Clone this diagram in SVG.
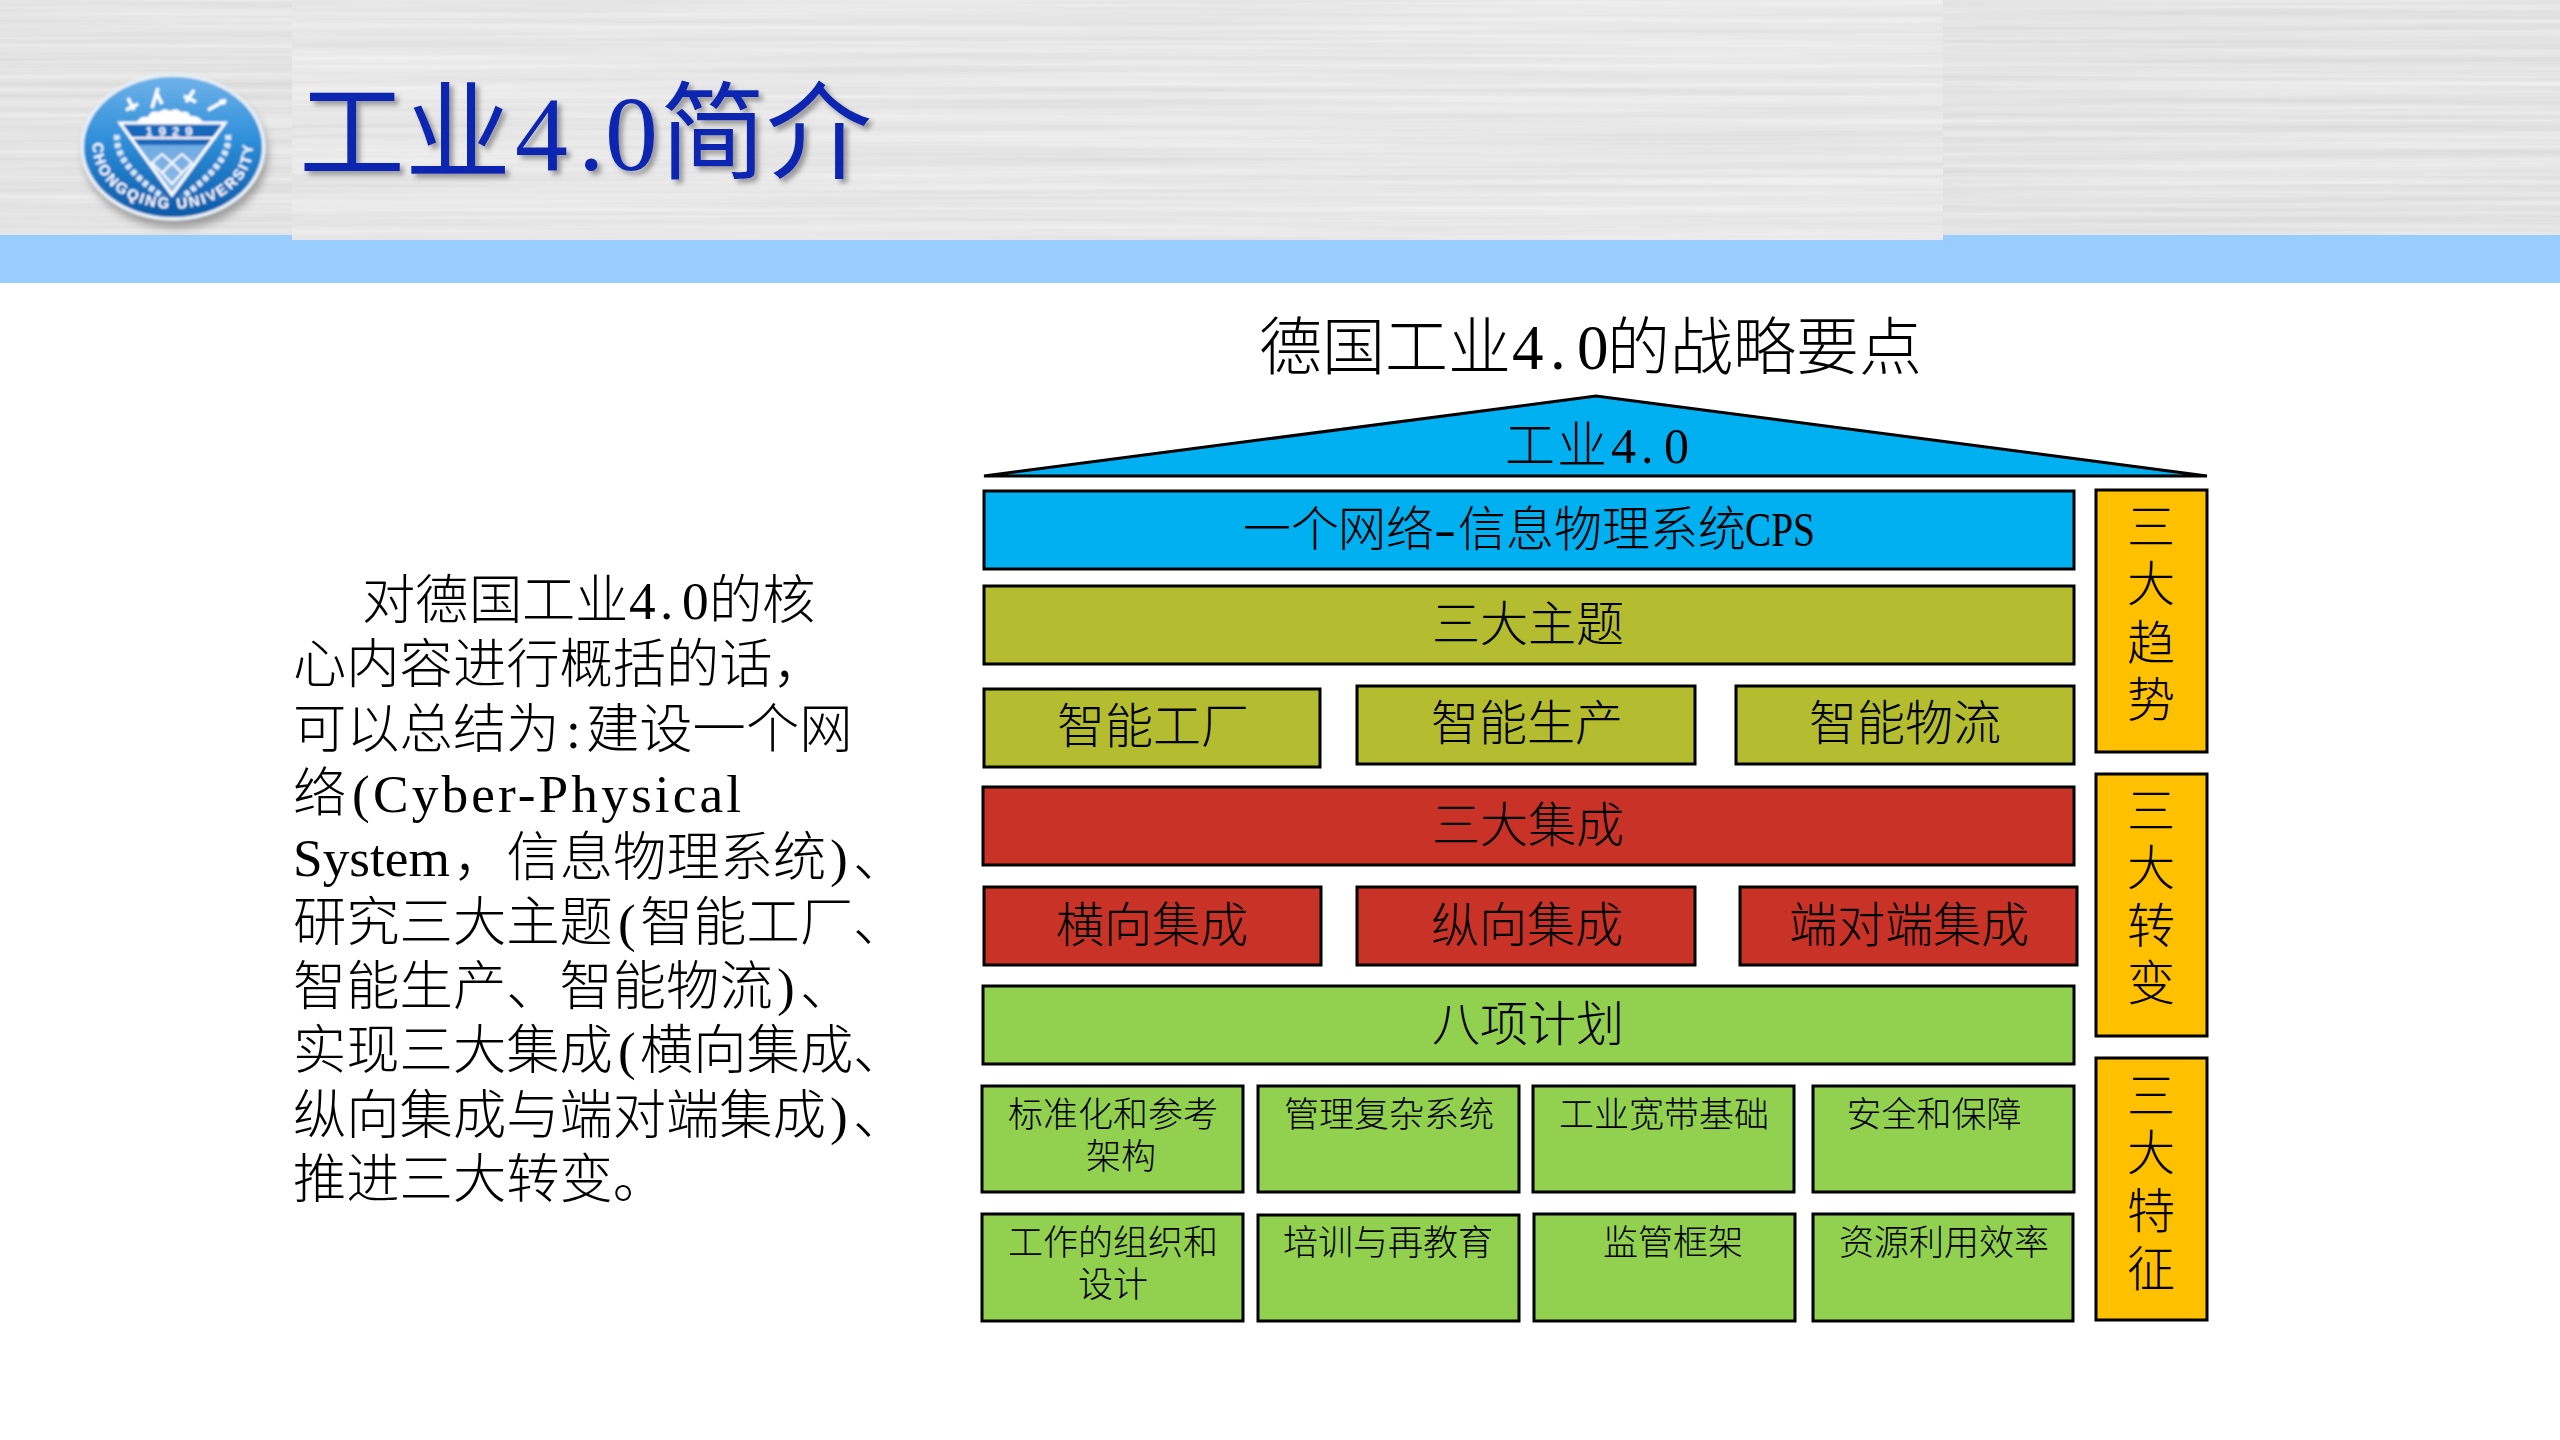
<svg xmlns="http://www.w3.org/2000/svg" width="2560" height="1440" viewBox="0 0 2560 1440">
<style>
text{font-family:"Liberation Serif","Noto Sans CJK SC",serif;fill:#000;font-weight:300}
.c{text-anchor:middle}
.b{stroke:#000;stroke-width:3}
.blue{fill:#00B0F0}.olive{fill:#B3BD2F}.red{fill:#C93227}.green{fill:#92D050}.orange{fill:#FFC000}
.f48{font-size:48px}.f36{font-size:35px}.f53{font-size:53.3px}
text.lg{font-family:"Liberation Sans",sans-serif;font-weight:700;fill:#fff}
</style>
<defs>
<filter id="brushed" x="0" y="0" width="100%" height="100%" color-interpolation-filters="sRGB">
<feTurbulence type="fractalNoise" baseFrequency="0.0015 0.16" numOctaves="3" seed="7"/>
<feColorMatrix type="matrix" values="0.11 0 0 0 0.84  0.11 0 0 0 0.84  0.11 0 0 0 0.84  0 0 0 0 1"/>
</filter>
<filter id="brushed2" x="0" y="0" width="100%" height="100%" color-interpolation-filters="sRGB">
<feTurbulence type="fractalNoise" baseFrequency="0.0015 0.16" numOctaves="3" seed="19"/>
<feColorMatrix type="matrix" values="0.1 0 0 0 0.86  0.1 0 0 0 0.86  0.1 0 0 0 0.86  0 0 0 0 1"/>
</filter>
<filter id="ts" x="-5%" y="-10%" width="112%" height="125%"><feDropShadow dx="4" dy="4" stdDeviation="2.5" flood-color="#777" flood-opacity=".7"/></filter>
<filter id="soft" x="-10%" y="-10%" width="120%" height="120%"><feGaussianBlur stdDeviation="0.9"/></filter>
<filter id="sh" x="-20%" y="-20%" width="140%" height="140%"><feGaussianBlur stdDeviation="4"/></filter>
<linearGradient id="seal" x1="0" y1="0" x2="0" y2="1"><stop offset="0" stop-color="#6FB2E8"/><stop offset=".45" stop-color="#2E8FDA"/><stop offset="1" stop-color="#0A5AA8"/></linearGradient>
<linearGradient id="tri" x1="0" y1="0" x2="0" y2="1"><stop offset="0" stop-color="#1268BC"/><stop offset=".3" stop-color="#1268BC"/><stop offset=".31" stop-color="#6EAAE2"/><stop offset="1" stop-color="#93BDE6"/></linearGradient>
<path id="ring" d="M101 121A80 61 0 1 0 245 121"/>
</defs>

<g id="header">
<rect x="0" y="0" width="2560" height="236" filter="url(#brushed)"/>
<rect x="292" y="0" width="1651" height="240" filter="url(#brushed2)"/>
<path d="M0 235H292V240H1943V235H2560V283H0Z" fill="#99CCFF"/>
</g>

<g id="logo">
<ellipse cx="176" cy="155" rx="92" ry="73" fill="#555" opacity=".5" filter="url(#sh)"/>
<g filter="url(#soft)">
<ellipse cx="173" cy="147" rx="93" ry="74" fill="#E6EEF5"/>
<ellipse cx="173" cy="147" rx="89" ry="70" fill="url(#seal)"/>
<path d="M128 98l6 12M126 110l12-6M158 88l-6 20M156 92l6 12M194 90l-8 12M184 96l12 6M226 100l-18 10M220 100l5 4" stroke="#fff" stroke-width="3.5" fill="none"/>
<path d="M137 122q3-6 11-5q3-8 11-5q5-5 11-1q7-4 11 1q8-2 9 4q9-1 13 6Z" fill="#fff"/>
<path d="M120 123H225L172 195Z" fill="url(#tri)" stroke="#fff" stroke-width="3"/>
<path d="M129 138H216" stroke="#fff" stroke-width="2"/>
<path d="M152 163l10-9l10 9l10-9l10 9l-10 10l-10-10l-10 10ZM162 173l10 11l10-11" fill="none" stroke="#fff" stroke-width="2"/>
<text class="lg c" x="172" y="136" font-size="13" letter-spacing="6">1929</text>
<path d="M117 135q-3 28 46 62M228 135q3 28-46 62" fill="none" stroke="#D9EAF8" stroke-width="6" stroke-dasharray="5 3"/>
<text class="lg c" font-size="15" letter-spacing="2.2"><textPath href="#ring" startOffset="50%">CHONGQING UNIVERSITY</textPath></text>
</g>
</g>

<text id="title" x="299 405 515 578 605 660 766" y="170" font-size="106" style="fill:#0A27B2;font-weight:400" filter="url(#ts)">工业4.0简介</text>

<g id="body-text" class="f53">
<text x="362 415 469 522 575 629 660 682 709 762" y="619">对德国工业4.0的核</text>
<text x="293" y="683">心内容进行概括的话，</text>
<text x="293" y="748">可以总结为<tspan x="566">:</tspan><tspan x="586">建设一个网</tspan></text>
<text x="293" y="812">络<tspan x="352">(</tspan><tspan x="373" textLength="368" lengthAdjust="spacing">Cyber-Physical</tspan></text>
<text x="293" y="876">System<tspan x="453">，</tspan><tspan x="506.5">信息物理系统</tspan><tspan x="830">)</tspan><tspan x="853">、</tspan></text>
<text x="293" y="941">研究三大主题<tspan x="618">(</tspan><tspan x="640">智能工厂</tspan><tspan x="853">、</tspan></text>
<text x="293" y="1005">智能生产、<tspan x="559.5">智能物流</tspan><tspan x="777">)</tspan><tspan x="800">、</tspan></text>
<text x="293" y="1069">实现三大集成<tspan x="618">(</tspan><tspan x="640">横向集成</tspan><tspan x="853">、</tspan></text>
<text x="293" y="1134">纵向集成与端对端集成<tspan x="830">)</tspan><tspan x="853">、</tspan></text>
<text x="293" y="1198">推进三大转变。</text>
</g>

<text id="heading" x="1259 1322 1385 1448 1512 1550 1577 1607 1670 1733 1796 1859" y="369" font-size="63">德国工业4.0的战略要点</text>

<g id="n-roof"><path class="blue b" d="M984 476L1596 396L2207 476Z"/><text x="1505 1557 1611 1641 1664" y="463" font-size="50">工业4.0</text></g>
<g id="n-cps"><rect class="blue b" x="984" y="491" width="1090" height="78"/><text class="f48" x="1243 1291 1338 1386" y="546">一个网络<tspan x="1434" textLength="22" lengthAdjust="spacingAndGlyphs">-</tspan><tspan x="1458">信息物理系统</tspan><tspan x="1745" textLength="70" lengthAdjust="spacingAndGlyphs">CPS</tspan></text></g>
<g id="n-themes" class="f48"><rect class="olive b" x="984" y="586" width="1090" height="78"/><text class="c" x="1528" y="641">三大主题</text></g>
<g id="n-factory" class="f48"><rect class="olive b" x="984" y="689" width="336" height="78"/><text class="c" x="1153" y="743">智能工厂</text></g>
<g id="n-production" class="f48"><rect class="olive b" x="1357" y="686" width="338" height="78"/><text class="c" x="1527" y="740">智能生产</text></g>
<g id="n-logistics" class="f48"><rect class="olive b" x="1736" y="686" width="338" height="78"/><text class="c" x="1905" y="740">智能物流</text></g>
<g id="n-integration" class="f48"><rect class="red b" x="983" y="787" width="1091" height="78"/><text class="c" x="1528" y="842">三大集成</text></g>
<g id="n-horizontal" class="f48"><rect class="red b" x="984" y="887" width="337" height="78"/><text class="c" x="1152" y="942">横向集成</text></g>
<g id="n-vertical" class="f48"><rect class="red b" x="1357" y="887" width="338" height="78"/><text class="c" x="1527" y="942">纵向集成</text></g>
<g id="n-endtoend" class="f48"><rect class="red b" x="1740" y="887" width="337" height="78"/><text class="c" x="1909" y="942">端对端集成</text></g>
<g id="n-eight" class="f48"><rect class="green b" x="983" y="986" width="1091" height="78"/><text class="c" x="1528" y="1041">八项计划</text></g>

<g id="n-p1" class="f36"><rect class="green b" x="982" y="1086" width="261" height="106"/><text class="c" x="1113" y="1127">标准化和参考</text><text class="c" x="1121" y="1169">架构</text></g>
<g id="n-p2" class="f36"><rect class="green b" x="1258" y="1086" width="261" height="106"/><text class="c" x="1389" y="1127">管理复杂系统</text></g>
<g id="n-p3" class="f36"><rect class="green b" x="1533" y="1086" width="261" height="106"/><text class="c" x="1664" y="1127">工业宽带基础</text></g>
<g id="n-p4" class="f36"><rect class="green b" x="1813" y="1086" width="261" height="106"/><text class="c" x="1934" y="1127">安全和保障</text></g>
<g id="n-p5" class="f36"><rect class="green b" x="982" y="1214" width="261" height="107"/><text class="c" x="1113" y="1255">工作的组织和</text><text class="c" x="1113" y="1297">设计</text></g>
<g id="n-p6" class="f36"><rect class="green b" x="1258" y="1215" width="261" height="106"/><text class="c" x="1388" y="1255">培训与再教育</text></g>
<g id="n-p7" class="f36"><rect class="green b" x="1534" y="1214" width="261" height="107"/><text class="c" x="1673" y="1255">监管框架</text></g>
<g id="n-p8" class="f36"><rect class="green b" x="1813" y="1214" width="260" height="107"/><text class="c" x="1944" y="1255">资源利用效率</text></g>

<g id="n-trends" class="f48"><rect class="orange b" x="2096" y="490" width="111" height="262"/><text class="c" x="2151" y="544">三</text><text class="c" x="2151" y="601">大</text><text class="c" x="2151" y="660">趋</text><text class="c" x="2151" y="717">势</text></g>
<g id="n-shifts" class="f48"><rect class="orange b" x="2096" y="774" width="111" height="262"/><text class="c" x="2151" y="828">三</text><text class="c" x="2151" y="885">大</text><text class="c" x="2151" y="943">转</text><text class="c" x="2151" y="1000">变</text></g>
<g id="n-traits" class="f48"><rect class="orange b" x="2096" y="1058" width="111" height="262"/><text class="c" x="2151" y="1113">三</text><text class="c" x="2151" y="1170">大</text><text class="c" x="2151" y="1228">特</text><text class="c" x="2151" y="1286">征</text></g>
</svg>
